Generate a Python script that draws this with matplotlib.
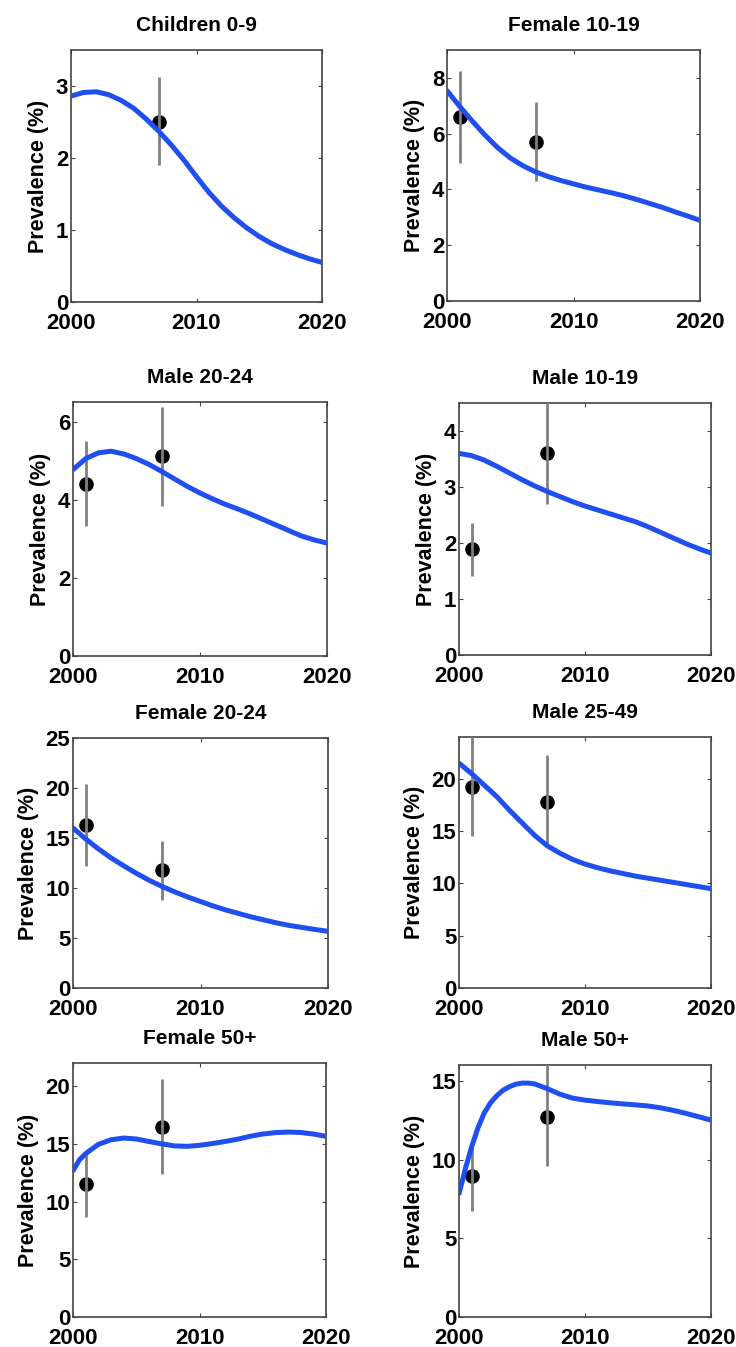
import matplotlib
matplotlib.use("Agg")
import matplotlib.pyplot as plt

plt.rcParams['font.family'] = ['Liberation Sans', 'DejaVu Sans']
plt.rcParams['font.weight'] = 'bold'

# ========================
# Données
# ========================

titres = ["Children 0-9", "Female 10-19", "Male 20-24", "Male 10-19",
          "Female 20-24", "Male 25-49", "Female 50+", "Male 50+"]

annees = list(range(2000, 2021))

# courbes modèle (prévalence %)
y_children = [2.86, 2.91, 2.92, 2.88, 2.80, 2.69, 2.54, 2.37, 2.18, 1.97, 1.74,
              1.52, 1.33, 1.17, 1.03, 0.91, 0.81, 0.73, 0.66, 0.60, 0.55]
y_f1019 = [7.54, 6.98, 6.45, 5.95, 5.50, 5.13, 4.85, 4.63, 4.46, 4.32, 4.20,
           4.08, 3.98, 3.88, 3.77, 3.64, 3.50, 3.36, 3.20, 3.05, 2.89]
y_m2024 = [4.77, 5.05, 5.20, 5.24, 5.17, 5.05, 4.90, 4.72, 4.53, 4.34, 4.17,
           4.02, 3.88, 3.76, 3.63, 3.49, 3.35, 3.21, 3.07, 2.97, 2.89]
y_m1019 = [3.60, 3.56, 3.48, 3.37, 3.25, 3.13, 3.02, 2.92, 2.83, 2.74, 2.66,
           2.59, 2.52, 2.45, 2.38, 2.29, 2.19, 2.09, 1.99, 1.90, 1.82]
y_f2024 = [16.0, 14.9, 13.9, 13.0, 12.2, 11.45, 10.75, 10.15, 9.6, 9.1, 8.65,
           8.2, 7.8, 7.45, 7.1, 6.8, 6.5, 6.25, 6.05, 5.85, 5.67]
y_m2549 = [21.5, 20.5, 19.4, 18.3, 17.0, 15.8, 14.6, 13.6, 12.9, 12.3, 11.85,
           11.5, 11.2, 10.95, 10.7, 10.5, 10.3, 10.1, 9.9, 9.7, 9.5]

x_f50 = [2000, 2000.5, 2001, 2002, 2003, 2004, 2005, 2006, 2007, 2008, 2009, 2010,
         2011, 2012, 2013, 2014, 2015, 2016, 2017, 2018, 2019, 2020]
y_f50 = [12.67, 13.6, 14.15, 14.95, 15.35, 15.5, 15.42, 15.2, 15.0, 14.82, 14.78, 14.87,
         15.02, 15.2, 15.4, 15.65, 15.85, 15.97, 16.02, 15.98, 15.85, 15.65]

x_m50 = [2000, 2000.25, 2000.5, 2000.75, 2001, 2001.5, 2002, 2002.5, 2003, 2003.5,
         2004, 2004.5, 2005, 2005.5, 2006, 2007, 2008, 2009, 2010, 2011, 2012,
         2013, 2014, 2015, 2016, 2017, 2018, 2019, 2020]
y_m50 = [7.84, 8.6, 9.4, 10.1, 10.8, 12.0, 12.95, 13.6, 14.05, 14.4,
         14.62, 14.78, 14.85, 14.85, 14.8, 14.5, 14.15, 13.9, 13.77, 13.68, 13.6,
         13.53, 13.47, 13.4, 13.28, 13.12, 12.93, 12.72, 12.5]

# données observées (année, valeur, borne basse, borne haute)
annees_obs = [[2007], [2001, 2007], [2001, 2007], [2001, 2007],
              [2001, 2007], [2001, 2007], [2001, 2007], [2001, 2007]]
val_obs = [[2.5], [6.58, 5.69], [4.41, 5.11], [1.9, 3.6],
           [16.33, 11.83], [19.2, 17.8], [11.54, 16.46], [8.94, 12.71]]
bas_obs = [[1.9], [4.94, 4.29], [3.32, 3.83], [1.41, 2.7],
           [12.23, 8.83], [14.5, 13.6], [8.7, 12.4], [6.74, 9.58]]
haut_obs = [[3.12], [8.23, 7.12], [5.5, 6.37], [2.36, 4.8],
            [20.4, 14.73], [25.0, 22.3], [14.35, 20.58], [11.19, 17.0]]

courbes = [(annees, y_children), (annees, y_f1019), (annees, y_m2024),
           (annees, y_m1019), (annees, y_f2024), (annees, y_m2549),
           (x_f50, y_f50), (x_m50, y_m50)]

ymax = [3.5, 9, 6.5, 4.5, 25, 24, 22, 16]
yticks = [[0, 1, 2, 3], [0, 2, 4, 6, 8], [0, 2, 4, 6], [0, 1, 2, 3, 4],
          [0, 5, 10, 15, 20, 25], [0, 5, 10, 15, 20], [0, 5, 10, 15, 20], [0, 5, 10, 15]]

# cadres des axes en pixels (gauche, droite, haut, bas)
W, H = 736, 1347
cadres = [(71, 322, 50, 302), (447, 700, 50, 301),
          (73, 327, 402, 656), (459, 711, 403, 655),
          (73, 328, 738, 988), (459, 711, 737, 988),
          (73, 326, 1063, 1317), (459, 711, 1065, 1317)]

fig = plt.figure(figsize=(W / 100, H / 100), dpi=100)

for i in range(8):
    g, d, h, b = cadres[i]
    ax = fig.add_axes([g / W, 1 - b / H, (d - g) / W, (b - h) / H])

    ax.plot(annees_obs[i], val_obs[i], 'o', color='black', markersize=9.5, zorder=2)
    ax.vlines(annees_obs[i], bas_obs[i], haut_obs[i], color='#808080', linewidth=2, zorder=3)
    ax.plot(courbes[i][0], courbes[i][1], color='#1f4fee', linewidth=3.6,
            solid_capstyle='round', solid_joinstyle='round', zorder=4)

    ax.set_xlim(2000, 2020)
    ax.set_ylim(0, ymax[i])
    ax.set_xticks([2000, 2010, 2020])
    ax.set_yticks(yticks[i])
    ax.tick_params(direction='in', top=True, right=True, labelsize=16,
                   length=3, width=0.8, color='#444444')
    ax.tick_params(axis='x', pad=8)
    ax.tick_params(axis='y', pad=2)
    for lab in ax.get_xticklabels() + ax.get_yticklabels():
        lab.set_fontweight('bold')
    for s in ax.spines.values():
        s.set_color('#444444')
        s.set_linewidth(1.2)
    ax.set_ylabel("Prevalence (%)", fontsize=15.5, fontweight='bold', labelpad=5)
    ax.set_title(titres[i], fontsize=15, fontweight='bold', pad=14)

fig.savefig("out.png", dpi=100)
